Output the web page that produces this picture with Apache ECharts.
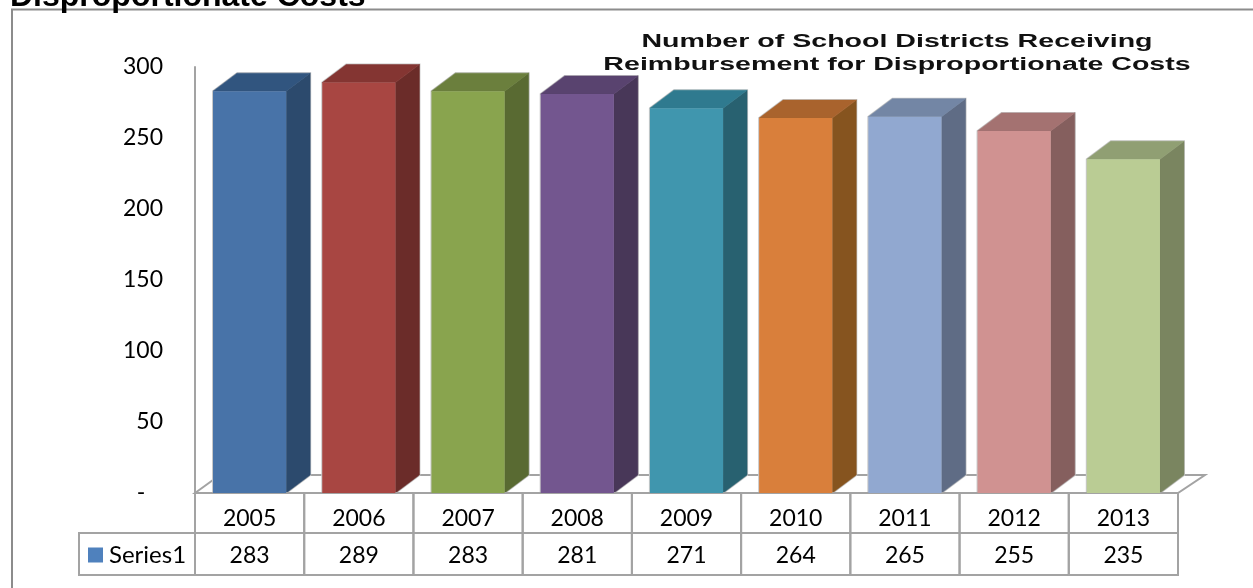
<!DOCTYPE html>
<html><head><meta charset="utf-8">
<style>html,body{margin:0;padding:0;background:#fff;overflow:hidden}#c{width:1253px;height:588px}</style>
<script src="https://cdn.jsdelivr.net/npm/echarts@6/dist/echarts.min.js"></script>
</head><body><div id="c"></div>
<script>
const years = ['2005','2006','2007','2008','2009','2010','2011','2012','2013'];
const values = [283,289,283,281,271,264,265,255,235];
const frontColors = ['#4873A8','#A84642','#89A44E','#73568F','#4096AE','#D97F3B','#91A8D0','#D09291','#BACC94'];
const topColors = ['#31557F','#843532','#6B7F3D','#59436F','#2F7A8F','#A9632D','#7386A5','#A47271','#909F73'];
const sideColors = ['#2C4A6D','#6B2C29','#596A32','#483758','#286170','#86541F','#5F6C85','#855F5E','#7A8560'];
const yTicks = {min:0,max:300,interval:50};
const headingText = 'Disproportionate Costs';
const titleText = 'Number of School Districts Receiving\nReimbursement for Disproportionate Costs';
const seriesName = 'Series1';

const GRAY='#A3A3A3', DX=24, DY=18, LEG=116, ROW1=40, ROW2=42, FLOORX=27;
const FONT='Lato';
const chart = echarts.init(document.getElementById('c'),null,{renderer:'canvas'});
function poly(pts,fill,stroke,z){return {type:'polygon',shape:{points:pts},style:{fill:fill,stroke:stroke||fill,lineWidth:stroke?1:0.5},z2:z||1};}
function render(params,api){
  const i=api.value(0), v=api.value(1);
  const base=api.coord([i,0]), top=api.coord([i,v]);
  const band=api.size([1,0])[0], w=band*0.67;
  const x0=base[0]-w/2, x1=base[0]+w/2, yb=base[1], yt=top[1];
  const children=[];
  const cx0=base[0]-band/2;
  if(i===0){
    const r=params.coordSys.x+params.coordSys.width;
    const f=poly([[cx0,yb],[cx0+FLOORX-2,yb-DY],[r+FLOORX,yb-DY],[r,yb]],'#fff',GRAY,0);
    f.style.lineWidth=2;
    children.push(f);
  }
  children.push({type:'rect',shape:{x:cx0,y:yb,width:band,height:ROW1},style:{fill:null,stroke:GRAY,lineWidth:2},z2:3});
  children.push({type:'rect',shape:{x:cx0,y:yb+ROW1,width:band,height:ROW2},style:{fill:null,stroke:GRAY,lineWidth:2},z2:3});
  if(i===0) children.push({type:'rect',shape:{x:cx0-LEG,y:yb+ROW1,width:LEG,height:ROW2},style:{fill:null,stroke:GRAY,lineWidth:2},z2:3});
  const outline=poly([[x0,yb],[x0,yt],[x0+DX,yt-DY],[x1+DX,yt-DY],[x1+DX,yb-DY],[x1,yb]],'#C8C8C8','#C8C8C8',1);
  outline.style.lineWidth=2;
  children.push(outline);
  children.push(poly([[x1,yb],[x1+DX,yb-DY],[x1+DX,yt-DY],[x1,yt]],sideColors[i],null,2));
  children.push(poly([[x0,yt],[x0+DX,yt-DY],[x1+DX,yt-DY],[x1,yt]],topColors[i],null,2));
  children.push({type:'rect',shape:{x:x0,y:yt,width:w,height:yb-yt},style:{fill:frontColors[i]},z2:3});
  return {type:'group',children:children};
}
chart.setOption({
  animation:false,
  backgroundColor:'#fff',
  title:[
    {text:headingText,left:5,top:-24,textStyle:{fontFamily:'Liberation Sans',fontWeight:'bold',fontSize:32,color:'#000'}}
  ],
  legend:{left:83,top:538,itemWidth:15,itemHeight:15,itemGap:6,data:[{name:seriesName,icon:'rect'}],textStyle:{fontFamily:FONT,fontSize:24,color:'#000',padding:[0,0,0,1]}},
  graphic:[
    {type:'polyline',shape:{points:[[12,588],[12,9.5],[1253,9.5]]},style:{stroke:'#8C8C8C',lineWidth:2,fill:null},silent:true},
    {type:'text',x:897,y:31,scaleX:1.587,silent:true,style:{text:titleText,align:'center',fontFamily:'Liberation Sans',fontWeight:'bold',fontSize:18,lineHeight:23,fill:'#111'}}
  ],
  grid:{left:195,right:75,top:67,bottom:95},
  xAxis:[
    {type:'category',data:years,axisLine:{show:false},axisTick:{show:false},axisLabel:{margin:14,fontFamily:FONT,fontSize:23,color:'#000'}},
    {type:'category',position:'bottom',offset:37,data:values.map(String),axisLine:{show:false},axisTick:{show:false},axisLabel:{margin:14,fontFamily:FONT,fontSize:23,color:'#000'}}
  ],
  yAxis:{type:'value',min:yTicks.min,max:yTicks.max,interval:yTicks.interval,
    axisLine:{show:true,lineStyle:{color:GRAY,width:2}},axisTick:{show:false},splitLine:{show:false},
    axisLabel:{margin:32,padding:[2,0,0,0],fontFamily:FONT,fontSize:23,color:'#000',formatter:v=>v===0?'-   ':String(v)}},
  series:[{type:'custom',name:seriesName,coordinateSystem:'cartesian2d',itemStyle:{color:'#4F81BD'},
    encode:{x:0,y:1},renderItem:render,clip:false,data:values.map((v,i)=>[i,v])}]
});
</script></body></html>
